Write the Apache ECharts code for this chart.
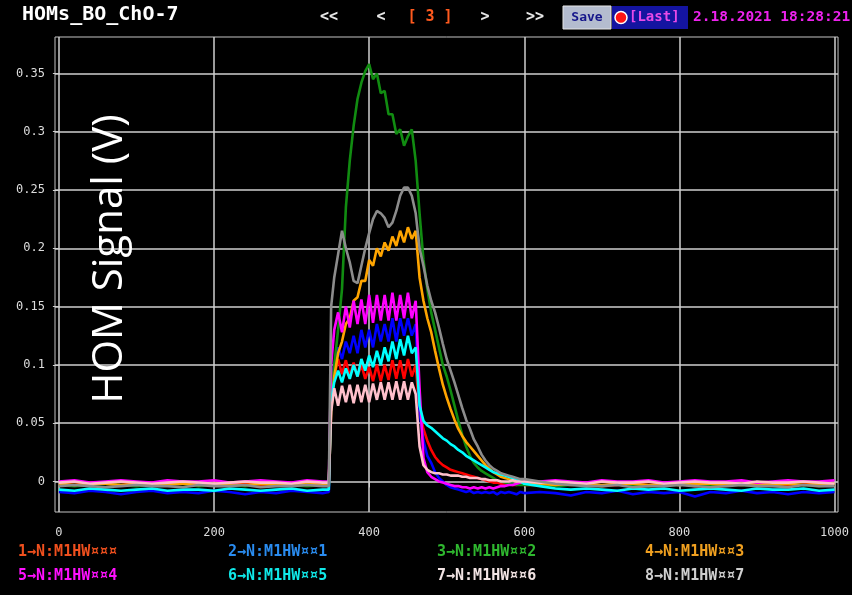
<!DOCTYPE html>
<html><head><meta charset="utf-8">
<script src="https://cdn.jsdelivr.net/npm/echarts@6/dist/echarts.min.js"></script>
<style>html,body{margin:0;padding:0;background:#000;}#c{width:852px;height:595px;}</style>
</head><body><div id="c"></div>
<script>
// ---- data ----
const xPre = [0,20,40,60,80,100,120,140,160,180,200,220,240,260,280,300,320,340,348];
const xPulse = [351,355,360,365,370,375,380,385,390,395,400,405,410,415,420,425,430,435,440,445,450,455,460,465,470,475,480,485,490,495,500,505,510,515,520,525,530,535,540,545,550,555,560,565,570,575,580,585,590,595,600];
const xPost = [620,640,660,680,700,720,740,760,780,800,820,840,860,880,900,920,940,960,980,1000];

const seriesNames = ['1→N:M1HW¤¤¤','2→N:M1HW¤¤1','3→N:M1HW¤¤2','4→N:M1HW¤¤3','5→N:M1HW¤¤4','6→N:M1HW¤¤5','7→N:M1HW¤¤6','8→N:M1HW¤¤7'];
const lineColors = ['#ff0000','#0000ff','#118c11','#ffa500','#ff00ff','#00ffff','#ffc0cb','#8c8c8c'];
const legendColors = ['#f0501e','#2a8cf0','#2fb82f','#f0a020','#ff10ff','#10e8e8','#f2e4e4','#cfcfcf'];

const red = [
 -0.002,-0.003,-0.001,-0.002,-0.003,-0.002,-0.001,-0.003,-0.002,-0.002,-0.003,-0.001,-0.002,-0.003,-0.002,-0.001,-0.002,-0.003,-0.002,
 0.07,0.09,0.105,0.092,0.104,0.09,0.102,0.09,0.1,0.088,
 0.098,0.086,0.1,0.086,0.1,0.087,0.104,0.088,0.104,0.088,
 0.105,0.09,0.1,0.06,0.045,0.035,0.027,0.021,0.017,0.014,
 0.012,0.01,0.009,0.008,0.007,0.006,0.005,0.004,0.003,0.002,
 0.001,0.0,-0.001,-0.001,-0.002,-0.002,-0.002,-0.003,-0.003,-0.002,
 -0.003,
 -0.003,-0.002,-0.003,-0.002,-0.004,-0.003,-0.002,-0.003,-0.003,-0.002,-0.004,-0.003,-0.002,-0.003,-0.002,-0.003,-0.004,-0.002,-0.003,-0.003];
const blue = [
 -0.009,-0.01,-0.008,-0.009,-0.011,-0.009,-0.008,-0.01,-0.009,-0.01,-0.008,-0.009,-0.011,-0.009,-0.01,-0.008,-0.009,-0.01,-0.009,
 0.08,0.1,0.115,0.105,0.12,0.11,0.125,0.11,0.13,0.115,
 0.13,0.115,0.135,0.12,0.135,0.12,0.14,0.12,0.14,0.125,
 0.14,0.125,0.135,0.06,0.035,0.022,0.016,0.008,0.003,0.0,
 -0.003,-0.005,-0.006,-0.007,-0.008,-0.009,-0.008,-0.01,-0.009,-0.01,
 -0.009,-0.01,-0.009,-0.011,-0.009,-0.01,-0.009,-0.01,-0.011,-0.009,
 -0.01,
 -0.009,-0.01,-0.012,-0.009,-0.01,-0.008,-0.011,-0.009,-0.01,-0.009,-0.013,-0.009,-0.01,-0.008,-0.01,-0.009,-0.011,-0.009,-0.01,-0.009];
const green = [
 -0.003,-0.004,-0.003,-0.002,-0.003,-0.004,-0.003,-0.003,-0.002,-0.004,-0.003,-0.003,-0.004,-0.002,-0.003,-0.003,-0.004,-0.003,-0.003,
 0.08,0.1,0.13,0.165,0.235,0.275,0.305,0.328,0.342,0.352,
 0.358,0.345,0.35,0.333,0.335,0.315,0.315,0.298,0.302,0.288,
 0.296,0.302,0.275,0.23,0.19,0.165,0.145,0.13,0.115,0.1,
 0.09,0.078,0.065,0.052,0.04,0.03,0.022,0.016,0.012,0.009,
 0.007,0.005,0.003,0.001,0.0,-0.001,-0.002,-0.002,-0.003,-0.003,
 -0.003,
 -0.003,-0.004,-0.003,-0.003,-0.004,-0.002,-0.003,-0.004,-0.003,-0.003,-0.002,-0.004,-0.003,-0.003,-0.004,-0.003,-0.002,-0.003,-0.004,-0.003];
const orange = [
 -0.002,-0.003,-0.002,-0.002,-0.003,-0.002,-0.003,-0.002,-0.002,-0.003,-0.002,-0.002,-0.003,-0.002,-0.003,-0.002,-0.002,-0.003,-0.002,
 0.06,0.09,0.11,0.12,0.135,0.14,0.155,0.158,0.172,0.172,
 0.19,0.185,0.2,0.193,0.205,0.198,0.21,0.202,0.215,0.205,
 0.218,0.208,0.215,0.175,0.155,0.14,0.128,0.112,0.097,0.083,
 0.072,0.062,0.053,0.045,0.039,0.034,0.03,0.026,0.022,0.018,
 0.014,0.011,0.008,0.006,0.004,0.003,0.002,0.001,0.0,-0.001,
 -0.001,
 -0.002,-0.003,-0.002,-0.002,-0.003,-0.002,-0.002,-0.003,-0.002,-0.003,-0.002,-0.002,-0.003,-0.002,-0.002,-0.003,-0.002,-0.003,-0.002,-0.002];
const magenta = [
 0.0,0.001,-0.001,0.0,0.001,0.0,-0.001,0.001,0.0,0.0,0.001,-0.001,0.0,0.001,0.0,-0.001,0.001,0.0,0.0,
 0.1,0.13,0.145,0.128,0.15,0.132,0.155,0.135,0.156,0.135,
 0.16,0.136,0.16,0.138,0.16,0.138,0.162,0.138,0.16,0.14,
 0.162,0.14,0.155,0.08,0.02,0.008,0.004,0.002,0.0,-0.001,
 -0.002,-0.003,-0.004,-0.004,-0.005,-0.005,-0.006,-0.005,-0.006,-0.005,
 -0.006,-0.005,-0.006,-0.005,-0.004,-0.004,-0.003,-0.003,-0.002,-0.001,
 0.0,
 0.0,0.001,0.0,-0.001,0.001,0.0,0.0,0.001,-0.001,0.0,0.001,0.0,0.0,0.001,-0.001,0.0,0.001,0.0,0.0,0.001];
const cyan = [
 -0.007,-0.008,-0.006,-0.007,-0.008,-0.007,-0.006,-0.008,-0.007,-0.007,-0.008,-0.006,-0.007,-0.008,-0.007,-0.006,-0.008,-0.007,-0.007,
 0.07,0.085,0.095,0.085,0.097,0.088,0.1,0.09,0.105,0.095,
 0.108,0.098,0.112,0.1,0.115,0.103,0.12,0.105,0.122,0.108,
 0.125,0.11,0.115,0.065,0.052,0.048,0.046,0.043,0.04,0.037,
 0.035,0.032,0.03,0.027,0.025,0.022,0.02,0.018,0.016,0.014,
 0.012,0.01,0.008,0.007,0.006,0.005,0.004,0.003,0.002,0.0,
 -0.002,
 -0.004,-0.006,-0.007,-0.006,-0.007,-0.008,-0.006,-0.007,-0.006,-0.008,-0.007,-0.006,-0.007,-0.008,-0.006,-0.007,-0.007,-0.006,-0.008,-0.007];
const pink = [
 -0.001,0.0,-0.002,-0.001,0.0,-0.001,-0.002,-0.001,0.0,-0.001,-0.002,-0.001,0.0,-0.001,-0.001,-0.002,0.0,-0.001,-0.001,
 0.06,0.08,0.065,0.082,0.068,0.083,0.067,0.083,0.068,0.083,
 0.068,0.084,0.07,0.085,0.07,0.085,0.07,0.086,0.07,0.086,
 0.07,0.085,0.075,0.03,0.014,0.01,0.008,0.007,0.007,0.006,
 0.006,0.005,0.005,0.005,0.004,0.004,0.003,0.003,0.003,0.002,
 0.002,0.001,0.001,0.001,0.0,0.0,0.0,0.001,0.0,0.0,
 0.0,
 -0.001,0.0,-0.001,-0.002,0.0,-0.001,-0.001,0.0,-0.002,-0.001,0.0,-0.001,-0.001,-0.002,0.0,-0.001,-0.001,0.0,-0.001,-0.002];
const gray = [
 -0.004,-0.003,-0.004,-0.005,-0.004,-0.003,-0.004,-0.004,-0.005,-0.003,-0.004,-0.004,-0.003,-0.005,-0.004,-0.004,-0.003,-0.004,-0.004,
 0.15,0.175,0.195,0.215,0.2,0.188,0.172,0.17,0.185,0.2,
 0.213,0.225,0.232,0.23,0.226,0.218,0.222,0.232,0.245,0.252,
 0.252,0.245,0.23,0.2,0.185,0.168,0.155,0.145,0.132,0.118,
 0.105,0.095,0.085,0.074,0.063,0.053,0.045,0.036,0.03,0.023,
 0.018,0.014,0.011,0.009,0.007,0.006,0.005,0.004,0.003,0.002,
 0.002,
 0.0,-0.002,-0.003,-0.004,-0.004,-0.003,-0.005,-0.004,-0.004,-0.003,-0.004,-0.005,-0.004,-0.003,-0.004,-0.004,-0.005,-0.003,-0.004,-0.004];

const xTicks = [0,200,400,600,800,1000];
const yTicks = [0,0.05,0.1,0.15,0.2,0.25,0.3,0.35];

// ---- build ----
const xs = xPre.concat(xPulse, xPost);
const allVals = [red, blue, green, orange, magenta, cyan, pink, gray];
allVals.forEach((v,i)=>{ if (v.length !== xs.length) throw new Error('series '+(i+1)+' length '+v.length+' != '+xs.length); });

const chart = echarts.init(document.getElementById('c'), null, {renderer:'canvas'});
const mono = '"DejaVu Sans Mono", monospace';

const series = allVals.map((vals,i)=>({
  name: seriesNames[i], type:'line', showSymbol:false, symbol:'none', animation:false,
  data: xs.map((x,k)=>[x, vals[k]]),
  lineStyle:{color:lineColors[i], width:2.6}, itemStyle:{color:lineColors[i]},
  emphasis:{disabled:true}
}));

const legendLefts = [13,223,432,640];
const legends = legendLefts.map((l,c)=>({
  orient:'vertical', left:l, top:543, itemGap:8, icon:'none', itemWidth:0, itemHeight:18,
  selectedMode:false, padding:0,
  textStyle:{fontFamily:mono, fontWeight:'bold', fontSize:15},
  data:[c, c+4].map(j=>({name:seriesNames[j], textStyle:{color:legendColors[j]}}))
}));

const navFont = 'bold 15px ' + mono;
chart.setOption({
  backgroundColor:'#000',
  animation:false,
  grid:{left:55, top:37, right:10, bottom:83, show:true, borderColor:'#c4c4c4', borderWidth:1, backgroundColor:'transparent'},
  xAxis:{type:'value', min:-5, max:1004.5,
    axisLine:{show:false},
    axisTick:{show:true, inside:false, length:6, lineStyle:{color:'#cfcfcf'}, customValues:xTicks},
    axisLabel:{customValues:xTicks, color:'#dcdcdc', fontFamily:mono, fontSize:12, margin:15, formatter:(v)=>String(v)},
    splitLine:{show:true, lineStyle:{color:'#cfcfcf', width:1.5}}},
  yAxis:{type:'value', min:-0.0262, max:0.3812,
    axisLine:{show:false},
    axisTick:{show:true, inside:false, length:6, lineStyle:{color:'#cfcfcf'}, customValues:yTicks},
    axisLabel:{customValues:yTicks, color:'#dcdcdc', fontFamily:mono, fontSize:12, margin:10},
    splitLine:{show:true, lineStyle:{color:'#cfcfcf', width:1.5}}},
  legend: legends,
  series: series,
  graphic:[
    {type:'text', left:22, top:5, style:{text:'HOMs_BO_ChO-7', fill:'#ffffff', font:'bold 20px '+mono}},
    {type:'text', x:329, y:17, style:{text:'<<', fill:'#e8e8e8', font:navFont, align:'center', verticalAlign:'middle'}},
    {type:'text', x:381, y:17, style:{text:'<', fill:'#e8e8e8', font:navFont, align:'center', verticalAlign:'middle'}},
    {type:'text', x:430, y:17, style:{text:'[ 3 ]', fill:'#ff5a1e', font:navFont, align:'center', verticalAlign:'middle'}},
    {type:'text', x:485, y:17, style:{text:'>', fill:'#e8e8e8', font:navFont, align:'center', verticalAlign:'middle'}},
    {type:'text', x:535, y:17, style:{text:'>>', fill:'#e8e8e8', font:navFont, align:'center', verticalAlign:'middle'}},
    {type:'rect', shape:{x:563, y:6, width:48, height:23}, style:{fill:'#b4bccf', stroke:'#e6e6e6', lineWidth:1}},
    {type:'text', x:587, y:17.5, style:{text:'Save', fill:'#16168a', font:'bold 13px '+mono, align:'center', verticalAlign:'middle'}},
    {type:'rect', shape:{x:612, y:6, width:76, height:23}, style:{fill:'#1414a0'}},
    {type:'circle', shape:{cx:621, cy:17.5, r:6}, style:{fill:'#ff1414', stroke:'#ffffff', lineWidth:1.5}},
    {type:'text', x:629, y:17, style:{text:'[Last]', fill:'#e84ae8', font:'bold 14px '+mono, verticalAlign:'middle'}},
    {type:'text', x:693, y:17, style:{text:'2.18.2021 18:28:21', fill:'#ee22ee', font:'bold 14.5px '+mono, verticalAlign:'middle'}},
    {type:'text', x:110, y:259, rotation:Math.PI/2, z:100, style:{text:'HOM Signal (V)', fill:'#ffffff', font:'42px "Open Sans"', align:'center', verticalAlign:'middle'}}
  ]
});
</script></body></html>
